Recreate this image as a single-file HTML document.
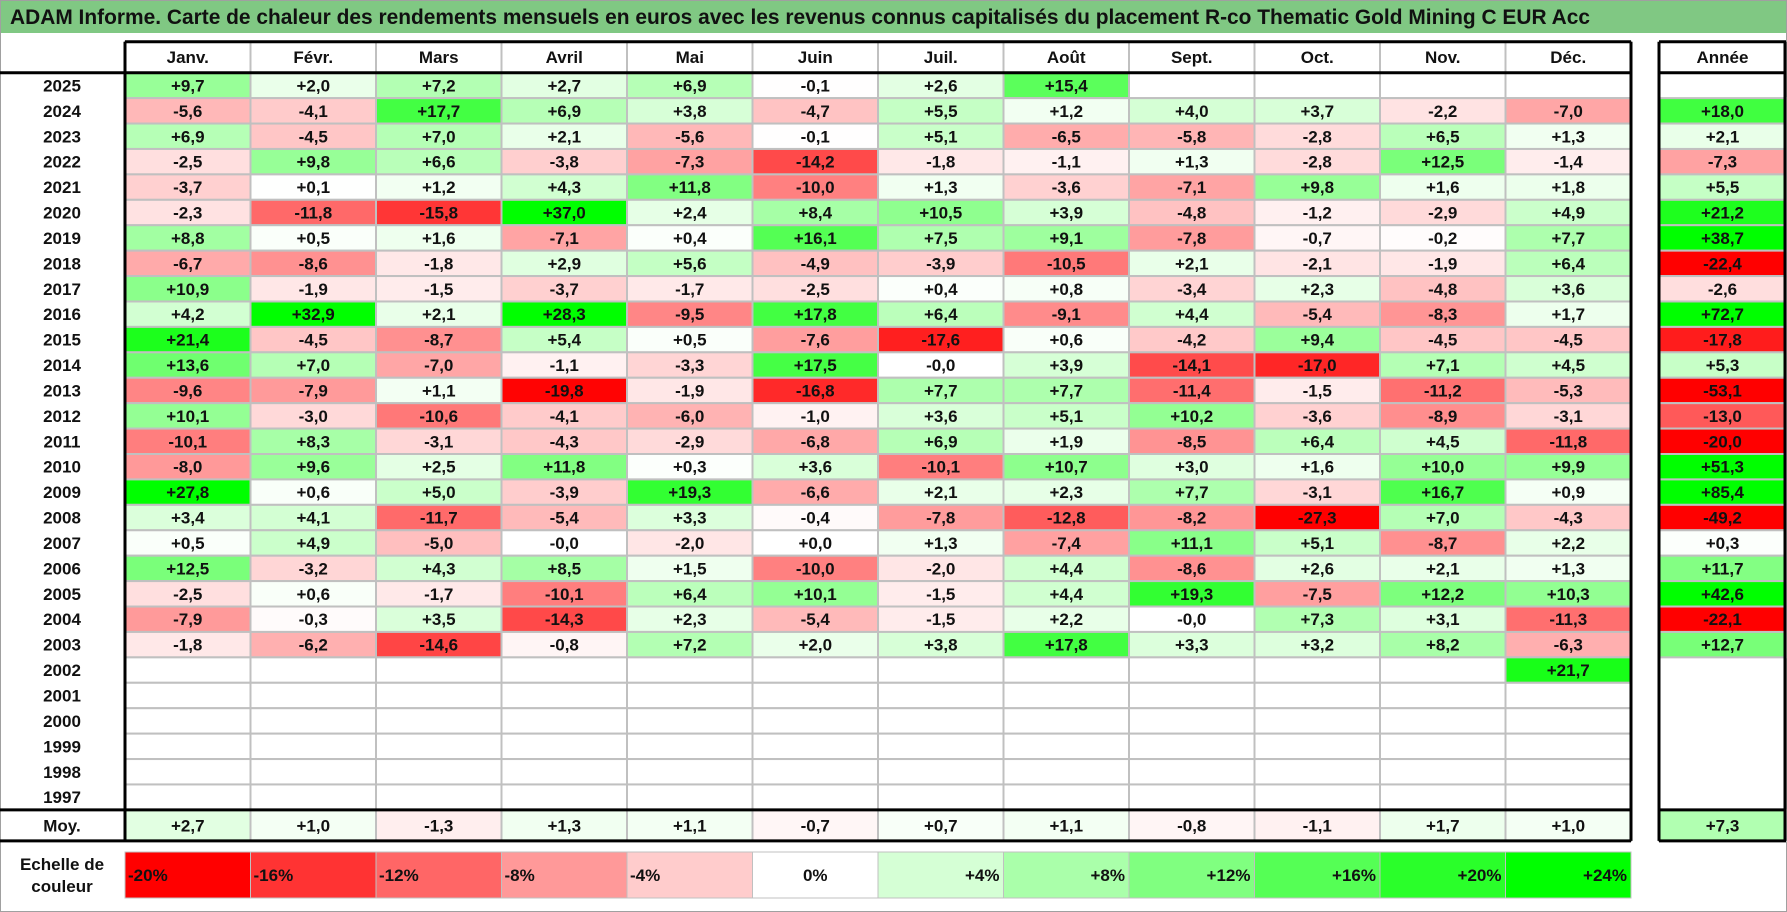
<!DOCTYPE html>
<html><head><meta charset="utf-8">
<style>
html,body{margin:0;padding:0;background:#fff;}
svg{display:block;font-family:"Liberation Sans",Arial,sans-serif;}
</style></head>
<body>
<svg id="chart" width="1787" height="912" viewBox="0 0 1787 912" xmlns="http://www.w3.org/2000/svg">
<rect x="0.5" y="0.5" width="1786" height="911" fill="#fff" stroke="#a0a0a0"/>
<rect x="1" y="1" width="1785" height="32" fill="#80c883"/>
<text x="10" y="24" font-size="21" font-weight="bold" fill="#111" textLength="1580" lengthAdjust="spacingAndGlyphs">ADAM Informe. Carte de chaleur des rendements mensuels en euros avec les revenus connus capitalisés du placement R-co Thematic Gold Mining C EUR Acc</text>
<g id="cells"></g>
<g id="lines"></g>
</svg>
<script>
const months=["Janv.","Févr.","Mars","Avril","Mai","Juin","Juil.","Août","Sept.","Oct.","Nov.","Déc."];
const years=[2025,2024,2023,2022,2021,2020,2019,2018,2017,2016,2015,2014,2013,2012,2011,2010,2009,2008,2007,2006,2005,2004,2003,2002,2001,2000,1999,1998,1997];
const N=null;
const monthly=[
[9.7,2.0,7.2,2.7,6.9,-0.1,2.6,15.4,N,N,N,N],
[-5.6,-4.1,17.7,6.9,3.8,-4.7,5.5,1.2,4.0,3.7,-2.2,-7.0],
[6.9,-4.5,7.0,2.1,-5.6,-0.1,5.1,-6.5,-5.8,-2.8,6.5,1.3],
[-2.5,9.8,6.6,-3.8,-7.3,-14.2,-1.8,-1.1,1.3,-2.8,12.5,-1.4],
[-3.7,0.1,1.2,4.3,11.8,-10.0,1.3,-3.6,-7.1,9.8,1.6,1.8],
[-2.3,-11.8,-15.8,37.0,2.4,8.4,10.5,3.9,-4.8,-1.2,-2.9,4.9],
[8.8,0.5,1.6,-7.1,0.4,16.1,7.5,9.1,-7.8,-0.7,-0.2,7.7],
[-6.7,-8.6,-1.8,2.9,5.6,-4.9,-3.9,-10.5,2.1,-2.1,-1.9,6.4],
[10.9,-1.9,-1.5,-3.7,-1.7,-2.5,0.4,0.8,-3.4,2.3,-4.8,3.6],
[4.2,32.9,2.1,28.3,-9.5,17.8,6.4,-9.1,4.4,-5.4,-8.3,1.7],
[21.4,-4.5,-8.7,5.4,0.5,-7.6,-17.6,0.6,-4.2,9.4,-4.5,-4.5],
[13.6,7.0,-7.0,-1.1,-3.3,17.5,-0.0,3.9,-14.1,-17.0,7.1,4.5],
[-9.6,-7.9,1.1,-19.8,-1.9,-16.8,7.7,7.7,-11.4,-1.5,-11.2,-5.3],
[10.1,-3.0,-10.6,-4.1,-6.0,-1.0,3.6,5.1,10.2,-3.6,-8.9,-3.1],
[-10.1,8.3,-3.1,-4.3,-2.9,-6.8,6.9,1.9,-8.5,6.4,4.5,-11.8],
[-8.0,9.6,2.5,11.8,0.3,3.6,-10.1,10.7,3.0,1.6,10.0,9.9],
[27.8,0.6,5.0,-3.9,19.3,-6.6,2.1,2.3,7.7,-3.1,16.7,0.9],
[3.4,4.1,-11.7,-5.4,3.3,-0.4,-7.8,-12.8,-8.2,-27.3,7.0,-4.3],
[0.5,4.9,-5.0,-0.0,-2.0,0.0,1.3,-7.4,11.1,5.1,-8.7,2.2],
[12.5,-3.2,4.3,8.5,1.5,-10.0,-2.0,4.4,-8.6,2.6,2.1,1.3],
[-2.5,0.6,-1.7,-10.1,6.4,10.1,-1.5,4.4,19.3,-7.5,12.2,10.3],
[-7.9,-0.3,3.5,-14.3,2.3,-5.4,-1.5,2.2,-0.0,7.3,3.1,-11.3],
[-1.8,-6.2,-14.6,-0.8,7.2,2.0,3.8,17.8,3.3,3.2,8.2,-6.3],
[N,N,N,N,N,N,N,N,N,N,N,21.7],
[N,N,N,N,N,N,N,N,N,N,N,N],
[N,N,N,N,N,N,N,N,N,N,N,N],
[N,N,N,N,N,N,N,N,N,N,N,N],
[N,N,N,N,N,N,N,N,N,N,N,N],
[N,N,N,N,N,N,N,N,N,N,N,N]];
const annual=[N,18.0,2.1,-7.3,5.5,21.2,38.7,-22.4,-2.6,72.7,-17.8,5.3,-53.1,-13.0,-20.0,51.3,85.4,-49.2,0.3,11.7,42.6,-22.1,12.7,N,N,N,N,N,N];
const averages=[2.7,1.0,-1.3,1.3,1.1,-0.7,0.7,1.1,-0.8,-1.1,1.7,1.0];
const averageYear=7.3;
const scaleSteps=[-20,-16,-12,-8,-4,0,4,8,12,16,20,24];

const NS="http://www.w3.org/2000/svg";
const cells=document.getElementById('cells'), lines=document.getElementById('lines');
const X0=125, CW=125.5, AX=1659, AW=127, HY=41.7, HH=31, RH=25.42;
const rowTop=i=>HY+HH+i*RH;
const colX=j=>X0+j*CW;
const MY=rowTop(years.length), MH=31;
function color(v){
  if(v<0){const f=Math.min(1,-v/20);const g=Math.round(255*(1-f));return `rgb(255,${g},${g})`;}
  const f=Math.min(1,v/24);const r=Math.round(255*(1-f));return `rgb(${r},255,${r})`;
}
function fmt(v){const neg=v<0||Object.is(v,-0);return (neg?'-':'+')+Math.abs(v).toFixed(1).replace('.',',');}
function mk(tag,attrs,parent){const e=document.createElementNS(NS,tag);for(const k in attrs)e.setAttribute(k,attrs[k]);(parent||cells).appendChild(e);return e;}
function cell(x,y,w,h,v,name){
  const r=mk('rect',{x:x,y:y,width:w,height:h,fill:v===null?'#fff':color(v),stroke:'#c0c0c0','stroke-width':2});
  
  
  if(v!==null){
    const t=mk('text',{x:x+w/2,y:y+h/2+6,'text-anchor':'middle','font-size':17,'font-weight':'bold',fill:'#111'});
    t.textContent=fmt(v);
    
    
  }
}
function label(x,y,txt,name,anchor,size){
  const t=mk('text',{x:x,y:y,'text-anchor':anchor||'middle','font-size':size||17,'font-weight':'bold',fill:'#111'});
  t.textContent=txt;
  
  
}
// headers
months.forEach((m,j)=>{
  const r=mk('rect',{x:colX(j),y:HY,width:CW,height:HH,fill:'#fff',stroke:'#c0c0c0','stroke-width':2});
  
  
  label(colX(j)+CW/2,HY+HH/2+6,m,'month-header');
});
label(AX+AW/2,HY+HH/2+6,'Année','year-column-header');
// rows
years.forEach((y,i)=>{
  label(62,rowTop(i)+RH/2+6,String(y),'year-label');
  monthly[i].forEach((v,j)=>cell(colX(j),rowTop(i),CW,RH,v,'cell-'+y+'-'+(j+1)));
  const v=annual[i];
  if(v!==null) cell(AX,rowTop(i),AW,RH,v,'annual-'+y);
});
// averages
label(62,MY+MH/2+6,'Moy.','average-row-label');
averages.forEach((v,j)=>cell(colX(j),MY,CW,MH,v,'average-'+(j+1)));
cell(AX,MY,AW,MH,averageYear,'average-annual');
// legend
const LY=852, LH=46;
label(62,LY+18,'Echelle de','legend-title-line1');
label(62,LY+40,'couleur','legend-title-line2');
scaleSteps.forEach((s,j)=>{
  const x=colX(j);
  const r=mk('rect',{x:x,y:LY,width:CW,height:LH,fill:color(s),stroke:'#c0c0c0','stroke-width':1});
  
  
  const txt=(s>0?'+':'')+s+'%';
  if(s<0) label(x+3,LY+LH/2+6,txt,'legend-label','start');
  else if(s===0) label(x+CW/2,LY+LH/2+6,txt,'legend-label','middle');
  else label(x+CW-4,LY+LH/2+6,txt,'legend-label','end');
});
// black borders
function bl(x1,y1,x2,y2,name){const l=mk('line',{x1:x1,y1:y1,x2:x2,y2:y2,stroke:'#000','stroke-width':3},lines);
  
  }
const XR=colX(12);
bl(X0,HY,XR,HY,'header-top-border');
bl(0,HY+HH,XR,HY+HH,'header-bottom-border');
bl(X0,HY,X0,MY+MH,'label-column-border');
bl(XR,HY,XR,MY+MH,'table-right-border');
bl(0,MY,XR,MY,'average-top-border');
bl(0,MY+MH,XR,MY+MH,'average-bottom-border');
bl(AX,HY,AX+AW,HY,'annual-top-border');
bl(AX,HY+HH,AX+AW,HY+HH,'annual-header-border');
bl(AX,HY,AX,MY+MH,'annual-left-border');
bl(AX+AW-1,HY,AX+AW-1,MY+MH,'annual-right-border');
bl(AX,MY,AX+AW,MY,'annual-average-top');
bl(AX,MY+MH,AX+AW,MY+MH,'annual-average-bottom');
</script>
</body></html>
